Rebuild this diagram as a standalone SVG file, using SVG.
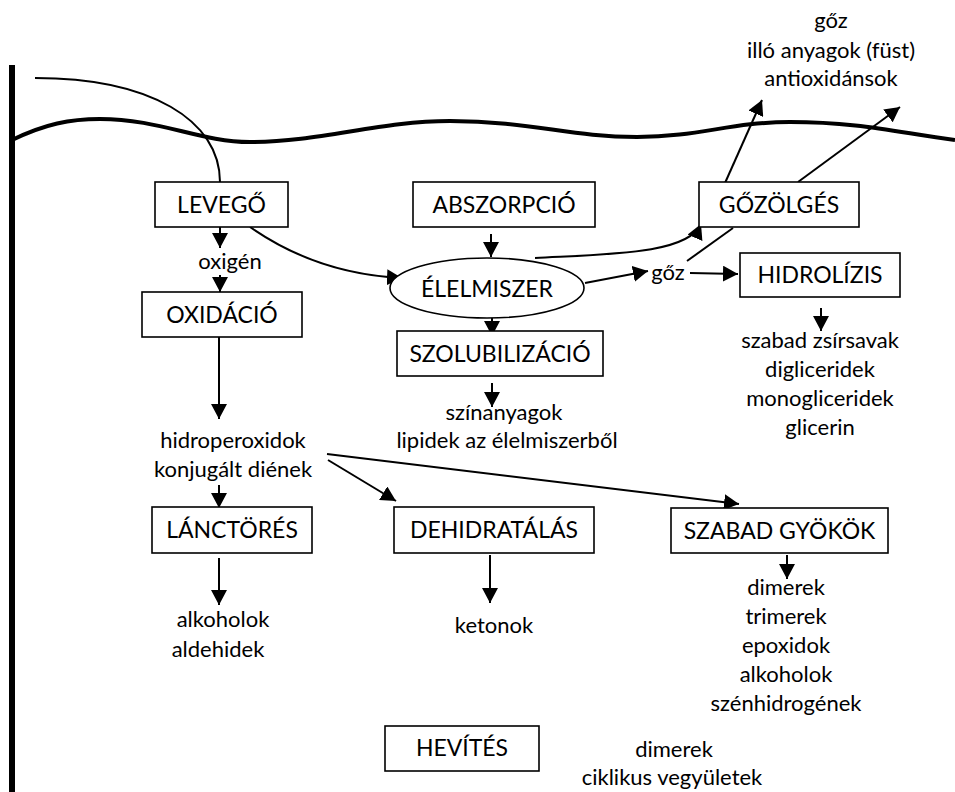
<svg xmlns="http://www.w3.org/2000/svg" width="955" height="792" viewBox="0 0 955 792">
<style>
.box{fill:#fff;stroke:#000;stroke-width:1.6}
.bl{font-family:Lato,"Open Sans","Liberation Sans",sans-serif;font-size:23px;fill:#000;text-anchor:middle}
.tx{font-family:Lato,"Open Sans","Liberation Sans",sans-serif;font-size:22px;fill:#000;text-anchor:middle}
.ar{fill:none;stroke:#000;stroke-width:2;marker-end:url(#ah)}
.ln{fill:none;stroke:#000;stroke-width:2}
</style>
<defs>
<marker id="ah" markerUnits="userSpaceOnUse" markerWidth="16" markerHeight="16" refX="15" refY="8" orient="auto">
<path d="M0,0 L15,8 L0,16 z" fill="#000"/>
</marker>
</defs>
<rect width="955" height="792" fill="#fff"/>
<g id="background">
<line x1="12" y1="65" x2="12" y2="792" stroke="#000" stroke-width="6"/>
<path d="M12,140 C45,124 70,119 100,119 C160,119 200,142 250,142 C320,142 380,121 450,121 C530,121 570,137 637,137 C700,137 730,122 790,122 C860,122 900,133 955,140" fill="none" stroke="#000" stroke-width="4"/>
</g>
<g id="connectors">
<path class="ln" d="M35,78 C150,78 220,120 220,182"/>
<path class="ar" d="M220,227 L220,248"/>
<path class="ar" d="M220,275 L220,292"/>
<path class="ar" d="M250,227 C290,255 340,275 402,278"/>
<path class="ar" d="M491,234 L491,257"/>
<path class="ar" d="M535,258 C610,254 688,254 701,224"/>
<path class="ar" d="M725,183 L762,100"/>
<path class="ar" d="M798,182 L900,107"/>
<path class="ln" d="M687,261 L733,228"/>
<path class="ar" d="M585,283 L648,271"/>
<path class="ar" d="M690,273 L738,274"/>
<path class="ar" d="M821,308 L821,331"/>
<path class="ar" d="M492,318 L492,336"/>
<path class="ar" d="M492,383 L492,407"/>
<path class="ar" d="M219,337 L219,419"/>
<path class="ar" d="M219,485 L219,508"/>
<path class="ar" d="M328,460 L396,501"/>
<path class="ar" d="M327,454 L739,504"/>
<path class="ar" d="M219,558 L219,605"/>
<path class="ar" d="M490,555 L490,603"/>
<path class="ar" d="M787,555 L787,579"/>
</g>
<g id="n-levego"><rect class="box" x="155" y="182" width="133" height="45"/><text class="bl" x="221.5" y="212.5">LEVEGŐ</text></g>
<g id="n-abszorpcio"><rect class="box" x="413" y="182" width="182" height="45"/><text class="bl" x="504" y="212.5">ABSZORPCIÓ</text></g>
<g id="n-gozolges"><rect class="box" x="699" y="182" width="160" height="45"/><text class="bl" x="779" y="212.5">GŐZÖLGÉS</text></g>
<g id="n-oxigen"><text class="tx" x="230" y="269">oxigén</text></g>
<g id="n-oxidacio"><rect class="box" x="142" y="292" width="160" height="45"/><text class="bl" x="222" y="322.5">OXIDÁCIÓ</text></g>
<g id="n-elelmiszer"><ellipse cx="487" cy="288" rx="97" ry="30" fill="#fff" stroke="#000" stroke-width="1.6"/><text class="bl" x="487" y="297">ÉLELMISZER</text></g>
<g id="n-goz"><text class="tx" x="668" y="280">gőz</text></g>
<g id="n-hidrolizis"><rect class="box" x="740" y="253" width="160" height="44"/><text class="bl" x="820" y="283">HIDROLÍZIS</text></g>
<g id="n-top"><text class="tx" x="831" y="28">gőz</text><text class="tx" x="831" y="58">illó anyagok (füst)</text><text class="tx" x="831" y="86">antioxidánsok</text></g>
<g id="n-hidr-products"><text class="tx" x="820" y="348">szabad zsírsavak</text><text class="tx" x="820" y="377">digliceridek</text><text class="tx" x="820" y="406">monogliceridek</text><text class="tx" x="820" y="435">glicerin</text></g>
<g id="n-szolubilizacio"><rect class="box" x="397" y="331" width="206" height="45"/><text class="bl" x="500" y="361.5">SZOLUBILIZÁCIÓ</text></g>
<g id="n-szol-products"><text class="tx" x="504" y="420">színanyagok</text><text class="tx" x="507" y="448">lipidek az élelmiszerből</text></g>
<g id="n-hidroperoxidok"><text class="tx" x="233" y="448">hidroperoxidok</text><text class="tx" x="233" y="477">konjugált diének</text></g>
<g id="n-lanctores"><rect class="box" x="152" y="507" width="160" height="46"/><text class="bl" x="232" y="538">LÁNCTÖRÉS</text></g>
<g id="n-dehidratalas"><rect class="box" x="394" y="507" width="200" height="46"/><text class="bl" x="494" y="538">DEHIDRATÁLÁS</text></g>
<g id="n-szabad"><rect class="box" x="671" y="508" width="217" height="45"/><text class="bl" x="779.5" y="538.5">SZABAD GYÖKÖK</text></g>
<g id="n-lanc-products"><text class="tx" x="223" y="627">alkoholok</text><text class="tx" x="218" y="657">aldehidek</text></g>
<g id="n-ketonok"><text class="tx" x="494" y="633">ketonok</text></g>
<g id="n-szabad-products"><text class="tx" x="786" y="595">dimerek</text><text class="tx" x="786" y="624">trimerek</text><text class="tx" x="786" y="653">epoxidok</text><text class="tx" x="786" y="682">alkoholok</text><text class="tx" x="786" y="711">szénhidrogének</text></g>
<g id="n-hevites"><rect class="box" x="385" y="726" width="154" height="45"/><text class="bl" x="462" y="756">HEVÍTÉS</text></g>
<g id="n-hev-products"><text class="tx" x="674" y="757">dimerek</text><text class="tx" x="672" y="785">ciklikus vegyületek</text></g>
</svg>
